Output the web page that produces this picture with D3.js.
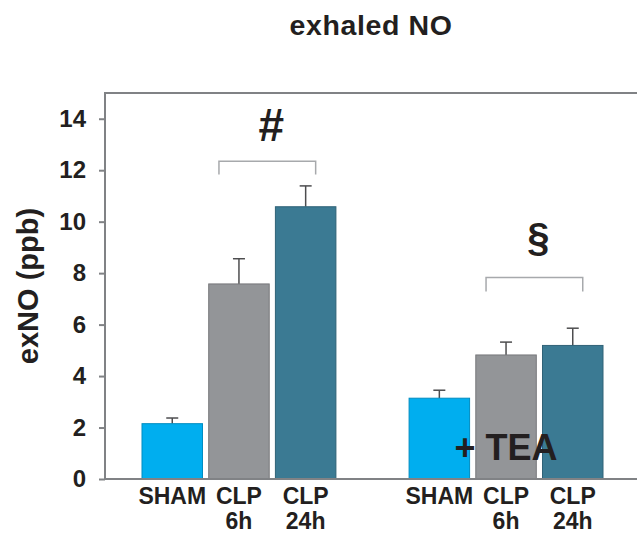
<!DOCTYPE html>
<html>
<head>
<meta charset="utf-8">
<script src="https://cdn.jsdelivr.net/npm/d3@7"></script>
<style>
  body { margin: 0; background: #fff; }
  svg { display: block; font-family: "Liberation Sans", Arial, sans-serif; }
</style>
</head>
<body>
<div id="chart"></div>
<script>
// data
const groups = ['ctrl', 'tea'];
const categories = ['SHAM', 'CLP 6h', 'CLP 24h'];
const catLabels = [['SHAM'], ['CLP', '6h'], ['CLP', '24h']];
const meanCtrl = [2.15, 7.58, 10.58];
const semCtrl = [0.22, 0.98, 0.81];
const meanTea = [3.14, 4.82, 5.19];
const semTea = [0.31, 0.5, 0.67];
const yTicks = [0, 2, 4, 6, 8, 10, 12, 14];
const colors = ['#00aeef', '#939598', '#3b7a93'];

// significance brackets: group, bracket height, leg bottom, symbol
const brackets = [
    { group: 'ctrl', top: 12.35, bottom: 11.83, symbol: '#', symY: 13.15, size: 46 },
    { group: 'tea', top: 7.83, bottom: 7.29, symbol: '§', symY: 8.85, size: 40 }
];

const width = 637;
const height = 535;
const margin = { top: 93, right: 0, bottom: 56, left: 105 };
const chartWidth = width - margin.left - margin.right;
const chartHeight = height - margin.top - margin.bottom;

const svg = d3.select('#chart').append('svg').attr('width', width).attr('height', height);

svg.append('text')
    .attr('x', margin.left + chartWidth / 2)
    .attr('y', 35)
    .attr('text-anchor', 'middle')
    .style('font-size', '28.5px')
    .style('font-weight', 'bold')
    .style('letter-spacing', '0.6px')
    .attr('fill', '#231f20')
    .text('exhaled NO');

const chart = svg.append('g').attr('transform', `translate(${margin.left}, ${margin.top})`);

const yScale = d3.scaleLinear().domain([0, 15]).range([chartHeight, 0]);
const xOuter = d3.scaleBand().domain(groups).range([37, 498]).paddingInner(0.274).paddingOuter(0);
const xInner = d3.scaleBand().domain(categories).range([0, xOuter.bandwidth()]).paddingInner(0.093).paddingOuter(0);

const rows = [];
groups.forEach((g, gi) => {
    const means = gi === 0 ? meanCtrl : meanTea;
    const sems = gi === 0 ? semCtrl : semTea;
    categories.forEach((c, ci) => {
        rows.push({ group: g, cat: c, ci: ci, mean: means[ci], sem: sems[ci] });
    });
});

const barX = (d) => xOuter(d.group) + xInner(d.cat);
const barMid = (d) => barX(d) + xInner.bandwidth() / 2;

// error bars (upper only), drawn before the bars
const err = chart.selectAll('.err').data(rows).enter().append('g').attr('class', 'err')
    .attr('stroke', '#4d4d4f').attr('stroke-width', 1.5);
err.append('line')
    .attr('x1', barMid).attr('x2', barMid)
    .attr('y1', (d) => yScale(d.mean)).attr('y2', (d) => yScale(d.mean + d.sem));
err.append('line')
    .attr('x1', (d) => barMid(d) - 6).attr('x2', (d) => barMid(d) + 6)
    .attr('y1', (d) => yScale(d.mean + d.sem)).attr('y2', (d) => yScale(d.mean + d.sem));

// bars
chart.selectAll('.bar').data(rows).enter().append('rect')
    .attr('class', 'bar')
    .attr('x', barX)
    .attr('y', (d) => yScale(d.mean))
    .attr('width', xInner.bandwidth())
    .attr('height', (d) => yScale(0) - yScale(d.mean))
    .attr('fill', (d) => colors[d.ci])
    .attr('stroke', (d) => d3.color(colors[d.ci]).darker(0.6))
    .attr('stroke-width', 1);

// frame: top, left and bottom lines
chart.append('path')
    .attr('d', `M${chartWidth},0H0V${chartHeight}H${chartWidth}`)
    .attr('fill', 'none')
    .attr('stroke', '#808285')
    .attr('stroke-width', 2);

// y axis
const yAxis = chart.append('g')
    .call(d3.axisLeft(yScale).tickValues(yTicks).tickSize(6).tickPadding(13));
yAxis.select('.domain').remove();
yAxis.selectAll('line').attr('stroke', '#808285').attr('stroke-width', 2);
yAxis.selectAll('text')
    .style('font-size', '24px')
    .style('font-weight', 'bold')
    .style('font-family', '"Liberation Sans", Arial, sans-serif')
    .attr('fill', '#231f20');

svg.append('text')
    .attr('transform', `translate(28, ${margin.top + chartHeight / 2}) rotate(-90)`)
    .attr('text-anchor', 'middle')
    .attr('dy', '0.35em')
    .style('font-size', '29px')
    .style('font-weight', 'bold')
    .attr('fill', '#231f20')
    .text('exNO (ppb)');

// category labels under the bars
const labels = chart.selectAll('.xlab').data(rows).enter().append('text')
    .attr('class', 'xlab')
    .attr('text-anchor', 'middle')
    .attr('y', chartHeight + 25)
    .style('font-size', '23px')
    .style('font-weight', 'bold')
    .attr('fill', '#231f20');
labels.selectAll('tspan').data((d) => catLabels[d.ci].map((t) => ({ t: t, x: barMid(d) }))).enter()
    .append('tspan')
    .attr('x', (d) => d.x)
    .attr('dy', (d, i) => (i === 0 ? 0 : 25))
    .text((d) => d.t);

// significance brackets
brackets.forEach((b) => {
    const x1 = xOuter(b.group) + xInner('CLP 6h') + xInner.bandwidth() / 2 - 20;
    const x2 = xOuter(b.group) + xInner('CLP 24h') + xInner.bandwidth() / 2 + 10;
    chart.append('path')
        .attr('d', `M${x1},${yScale(b.bottom)}V${yScale(b.top)}H${x2}V${yScale(b.bottom)}`)
        .attr('fill', 'none')
        .attr('stroke', '#a7a9ac')
        .attr('stroke-width', 1.5);
    chart.append('text')
        .attr('x', (x1 + x2) / 2 + 4)
        .attr('y', yScale(b.symY))
        .attr('text-anchor', 'middle')
        .style('font-size', `${b.size}px`)
        .style('font-weight', 'bold')
        .attr('fill', '#231f20')
        .text(b.symbol);
});

// treatment label over the second group
chart.append('text')
    .attr('x', xOuter('tea') + xInner('CLP 6h') + xInner.bandwidth() / 2)
    .attr('y', yScale(0.74))
    .attr('text-anchor', 'middle')
    .style('font-size', '36px')
    .style('font-weight', 'bold')
    .attr('fill', '#231f20')
    .text('+ TEA');
</script>
</body>
</html>
